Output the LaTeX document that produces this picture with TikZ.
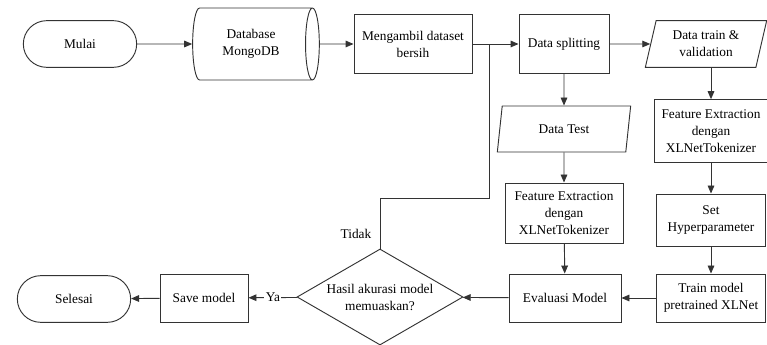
\documentclass[tikz,border=0pt]{standalone}
\usepackage{fontspec}
\setmainfont{Liberation Serif}
\newfontfamily\fonbagan{Liberation Serif}
\usetikzlibrary{shapes.geometric,shapes.misc,arrows.meta}
\tikzset{
  base/.style={draw=black!80, line width=0.7pt, align=center, inner sep=2pt,
    font=\fonbagan\fontsize{10}{12.75}\selectfont},
  mulaiselesai/.style={base, rounded rectangle, minimum width=89pt, minimum height=35pt},
  proses/.style={base, rectangle},
  datainput/.style={base, trapezium, trapezium left angle=71, trapezium right angle=109,
    trapezium stretches body},
  basisdata/.style={base, cylinder, aspect=0.4},
  keputusan/.style={base, diamond, aspect=1.73, inner sep=0pt},
  panah/.style={draw=black!80, line width=0.7pt, -{Triangle[length=6pt,width=5pt]}},
  garis/.style={draw=black!80, line width=0.7pt},
  label/.style={font=\fonbagan\fontsize{10}{12}\selectfont},
}
\begin{document}
\begin{tikzpicture}[x=0.75pt,y=-0.75pt]
      \useasboundingbox (0,0) rectangle (767,345);

      \node (mulai) [mulaiselesai] at (80,44) {Mulai};
      \node (db) [basisdata, minimum width=54pt, minimum height=95pt] at (251,44) {Database\\MongoDB};
      \node (ambil) [proses, minimum width=88.5pt, minimum height=44pt] at (413,44) {Mengambil dataset\\bersih};
      \node (split) [proses, minimum width=67.5pt, minimum height=44pt] at (564,44) {Data splitting};
      \node (latih) [datainput, minimum width=91pt, minimum height=35pt] at (706,44) {Data train \&\\validation};
      \node (uji) [datainput, minimum width=100pt, minimum height=34.5pt] at (564,129) {Data Test};
      \node (fiturlatih) [proses, minimum width=85pt, minimum height=47pt] at (711,131) {Feature Extraction\\dengan\\XLNetTokenizer};
      \node (fituruji) [proses, minimum width=88.5pt, minimum height=45pt] at (564,213) {Feature Extraction\\dengan\\XLNetTokenizer};
      \node (hyper) [proses, minimum width=82pt, minimum height=39pt] at (711,220) {Set\\Hyperparameter};
      \node (trainm) [proses, minimum width=82pt, minimum height=36pt] at (711,298) {Train model\\pretrained XLNet};
      \node (eval) [proses, minimum width=84pt, minimum height=36pt] at (565,298) {Evaluasi Model};
      \node (cek) [keputusan, minimum width=124.5pt, minimum height=72pt] at (380,297) {Hasil akurasi model\\memuaskan?};
      \node (save) [proses, minimum width=66pt, minimum height=36pt] at (204,298) {Save model};
      \node (selesai) [mulaiselesai] at (74,299) {Selesai};

      \coordinate (cabang) at (489,44);
      \coordinate (belok) at (489,198);

      \draw [panah] (mulai) -- (db);
      \draw [panah] (db) -- (ambil);
      \draw [panah] (ambil) -- (split);
      \draw [panah] (split) -- (latih);
      \draw [panah] (split) -- (uji);
      \draw [panah] (uji) -- (fituruji);
      \draw [panah] (fituruji) -- (eval);
      \draw [panah] (latih.south -| fiturlatih.north) -- (fiturlatih.north);
      \draw [panah] (fiturlatih) -- (hyper);
      \draw [panah] (hyper) -- (trainm);
      \draw [panah] (trainm) -- (eval);
      \draw [panah] (eval) -- (cek);
      \draw [panah] (cek) -- node [label, fill=white, inner sep=1pt] {Ya} (save);
      \draw [panah] (save) -- (selesai);
      \draw [garis] (cek.north) -- (cek.north |- belok) -- (belok) -- (cabang);
      \node (tidak) [label, anchor=east] at (376,234) {Tidak};
\end{tikzpicture}
\end{document}
